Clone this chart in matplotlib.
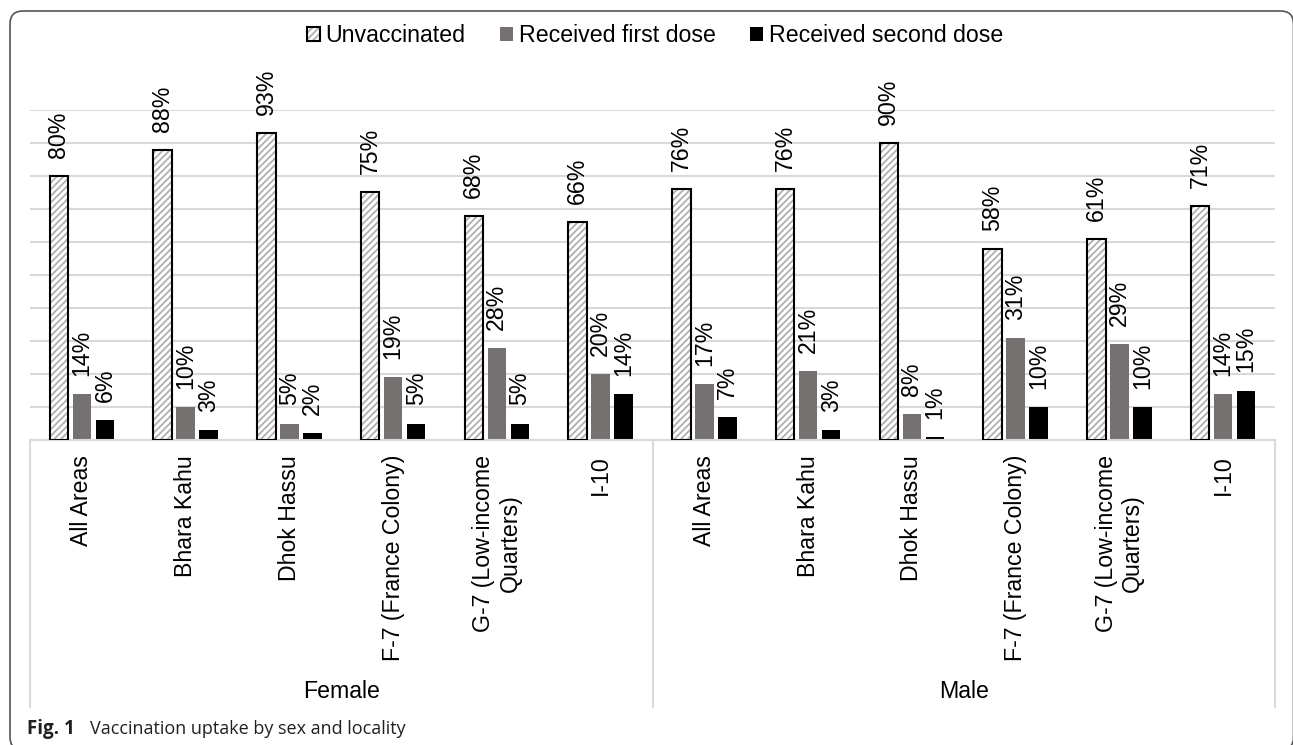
import matplotlib
matplotlib.use("Agg")
import matplotlib.pyplot as plt
import numpy as np
from matplotlib.patches import FancyBboxPatch, Patch
from matplotlib.legend_handler import HandlerTuple

# data
groups = ["Female", "Male"]
areas = ["All Areas", "Bhara Kahu", "Dhok Hassu", "F-7 (France Colony)",
         "G-7 (Low-income\nQuarters)", "I-10"]
unvacc_female = [80, 88, 93, 75, 68, 66]
first_female = [14, 10, 5, 19, 28, 20]
second_female = [6, 3, 2, 5, 5, 14]
unvacc_male = [76, 76, 90, 58, 61, 71]
first_male = [17, 21, 8, 31, 29, 14]
second_male = [7, 3, 1, 10, 10, 15]
series_names = ["Unvaccinated", "Received first dose", "Received second dose"]

plt.rcParams["font.family"] = ["Liberation Sans", "DejaVu Sans"]
plt.rcParams["hatch.linewidth"] = 1.3

FS = 16.7
HATCH_C = "#b0b0b0"
W, H = 1293, 745
fig = plt.figure(figsize=(W / 100, H / 100), dpi=100)

# plot area in pixels: x 30..1275, baseline 440, 100% at 110
ax = fig.add_axes([30 / W, (H - 440) / H, (1275 - 30) / W, (440 - 110) / H])
ax.set_xlim(-0.5, 11.5)
ax.set_ylim(0, 100)
per_px = 100 / (440 - 110)  # data units per pixel

unvacc = unvacc_female + unvacc_male
first = first_female + first_male
second = second_female + second_male
labels = areas + areas
x = np.arange(len(labels))

bw = 0.178
step = 0.222

# hatched bars: hatch drawn in light grey, then black outline on top
ax.bar(x - step, unvacc, bw, facecolor="white", edgecolor=HATCH_C,
       linewidth=0, hatch="/////", zorder=2)
ax.bar(x - step, unvacc, bw, facecolor="none", edgecolor="black",
       linewidth=1.5, zorder=3)
ax.bar(x, first, bw, color="#767171", zorder=2)
ax.bar(x + step, second, bw, color="black", zorder=2)

for vals, off in [(unvacc, -step), (first, 0), (second, step)]:
    for xi, v in zip(x, vals):
        ax.annotate(f"{v}%", (xi + off, v), xytext=(0, 13),
                    textcoords="offset points", rotation=90,
                    ha="center", va="bottom", fontsize=FS, color="black",
                    annotation_clip=False)

# gridlines
ax.set_yticks(np.arange(10, 101, 10))
ax.yaxis.grid(True, color="#d9d9d9", linewidth=1.5, zorder=0)
ax.set_axisbelow(True)
ax.tick_params(left=False, labelleft=False, bottom=False, labelbottom=False)
for s in ["top", "right", "left"]:
    ax.spines[s].set_visible(False)
ax.spines["bottom"].set_color("#d9d9d9")
ax.spines["bottom"].set_linewidth(1.5)

# category axis (two levels)
for xi, lab in zip(x, labels):
    ax.text(xi, -15 * per_px, lab, rotation=90, ha="center", va="top",
            multialignment="center", fontsize=FS, clip_on=False)
for gi, g in enumerate(groups):
    ax.text(gi * 6 + 2.5, -252 * per_px, g, ha="center", va="center",
            fontsize=FS, clip_on=False)
for xs in [-0.5, 5.5, 11.5]:
    ax.plot([xs, xs], [0, -267 * per_px], color="#d9d9d9", linewidth=1.5,
            clip_on=False, zorder=1)

# legend
h_unv = (Patch(facecolor="white", edgecolor=HATCH_C, linewidth=0, hatch="/////"),
         Patch(facecolor="none", edgecolor="black", linewidth=1.5))
h_first = Patch(facecolor="#767171")
h_second = Patch(facecolor="black")
fig.legend([h_unv, h_first, h_second], series_names,
           handler_map={tuple: HandlerTuple(ndivide=1, pad=0)},
           loc="center", bbox_to_anchor=(655 / W, (H - 36) / H), ncol=3,
           frameon=False, fontsize=FS, handlelength=0.55, handleheight=0.55,
           handletextpad=0.25, columnspacing=1.5)

# outer rounded frame
frame = FancyBboxPatch((0.10, -0.05), (1293.5 - 10) / 100, (H - 11) / 100 + 0.05,
                       boxstyle="round,pad=0,rounding_size=0.13",
                       transform=fig.dpi_scale_trans, facecolor="none",
                       edgecolor="#555555", linewidth=1.2)
fig.patches.append(frame)

# caption
fig.text(27 / W, 11 / H, "Fig. 1", fontfamily="Open Sans", fontweight="bold",
         fontsize=13.5, color="#231f20", va="baseline")
fig.text(90 / W, 11 / H, "Vaccination uptake by sex and locality",
         fontfamily="Open Sans", fontsize=13, color="#231f20", va="baseline")

fig.savefig("out.png", dpi=100)
